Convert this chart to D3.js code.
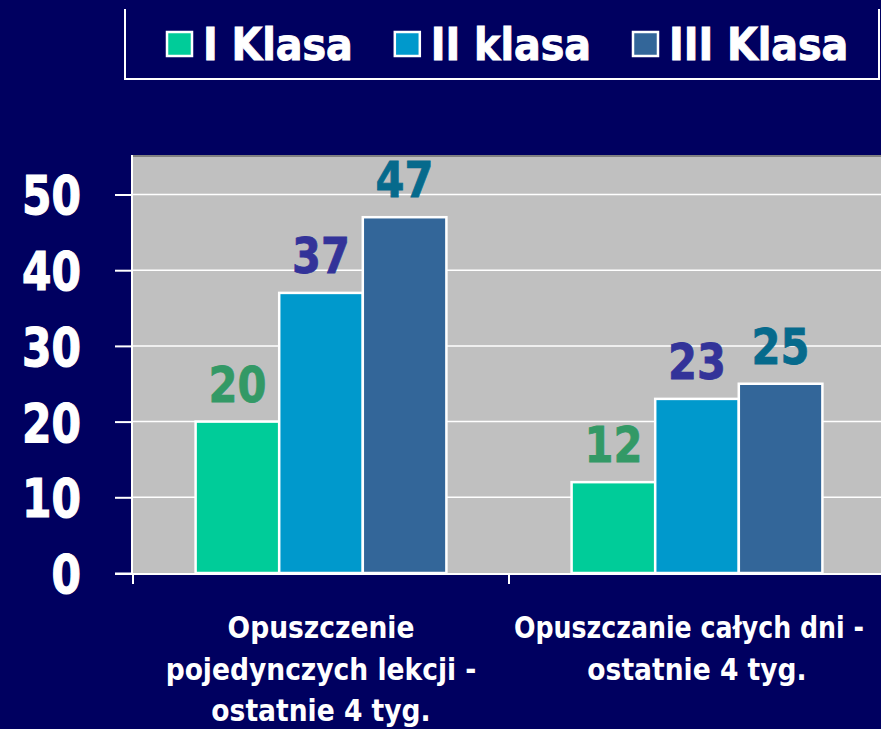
<!DOCTYPE html>
<html>
<head>
<meta charset="utf-8">
<script src="https://cdn.jsdelivr.net/npm/d3@7"></script>
<style>
  html, body { margin: 0; padding: 0; background: #000060; }
  svg { display: block; }
  text { font-family: "DejaVu Sans", Verdana, sans-serif; font-weight: bold; }
</style>
</head>
<body>
<div class="graphContainer"></div>
<script>
const categories = ["lekcje", "dni"];
const categoryLines = [
  ["Opuszczenie", "pojedynczych lekcji -", "ostatnie 4 tyg."],
  ["Opuszczanie całych dni -", "ostatnie 4 tyg."]
];
const series = ["I Klasa", "II klasa", "III Klasa"];
const klasa1 = [20, 12];
const klasa2 = [37, 23];
const klasa3 = [47, 25];
const yTicks = [0, 10, 20, 30, 40, 50];

const barColors = ["#00cc99", "#0099cc", "#336699"];
const labelColors = ["#339966", "#333399", "#066a8c"];

// squash text horizontally, the original font is narrower than DejaVu
function squeeze(sel, ratio) {
  sel.each(function () {
    const w = this.getComputedTextLength();
    d3.select(this)
      .attr("textLength", w * ratio)
      .attr("lengthAdjust", "spacingAndGlyphs");
  });
}

function drawChart() {
  const w = 881,
    h = 729,
    plotLeft = 133,
    plotRight = 885,
    plotTop = 155,
    plotBottom = 573;

  const values = [klasa1, klasa2, klasa3];

  const canvas = d3.select(".graphContainer")
    .append("svg")
    .attr("width", w)
    .attr("height", h);

  canvas.append("rect")
    .attr("width", w)
    .attr("height", h)
    .attr("fill", "#000060");

  let y = d3.scaleLinear()
    .domain([0, 50])
    .range([plotBottom, 194.5]);

  let x = d3.scaleBand()
    .domain(categories)
    .range([plotLeft, plotRight]);

  let xSeries = d3.scaleBand()
    .domain(series)
    .range([x.bandwidth() * 0.1665, x.bandwidth() * 0.8335]);

  // plot area
  canvas.append("rect")
    .attr("x", plotLeft)
    .attr("y", plotTop)
    .attr("width", plotRight - plotLeft)
    .attr("height", plotBottom - plotTop)
    .attr("fill", "#c0c0c0");

  canvas.append("line")
    .attr("x1", plotLeft)
    .attr("x2", plotRight)
    .attr("y1", plotTop + 1)
    .attr("y2", plotTop + 1)
    .attr("stroke", "#808080")
    .attr("stroke-width", 2);

  // gridlines
  canvas.selectAll(".grid")
    .data(yTicks.filter(function (d) { return d > 0; }))
    .enter()
    .append("line")
    .attr("class", "grid")
    .attr("x1", plotLeft)
    .attr("x2", plotRight)
    .attr("y1", function (d) { return y(d); })
    .attr("y2", function (d) { return y(d); })
    .attr("stroke", "#ffffff")
    .attr("stroke-width", 1.5);

  // y axis
  let yAxis = d3.axisLeft(y)
    .tickValues(yTicks)
    .tickSize(17)
    .tickPadding(34);

  const yAxisG = canvas.append("g")
    .attr("transform", "translate(" + (plotLeft - 1) + ",0)")
    .call(yAxis);

  yAxisG.select(".domain")
    .attr("d", "M0," + plotTop + "V" + plotBottom)
    .attr("stroke", "#ffffff")
    .attr("stroke-width", 2);

  yAxisG.selectAll(".tick line")
    .attr("stroke", "#ffffff")
    .attr("stroke-width", 2);

  yAxisG.selectAll(".tick text")
    .attr("fill", "#ffffff")
    .attr("font-size", 54)
    .attr("font-family", "DejaVu Sans")
    .attr("font-weight", "bold")
    .attr("stroke", "#ffffff")
    .attr("stroke-width", 1.2)
    .attr("dy", "0.36em")
    .call(squeeze, 0.785);

  // bars
  const groups = canvas.selectAll(".group")
    .data(categories)
    .enter()
    .append("g")
    .attr("class", "group")
    .attr("transform", function (d) {
      return "translate(" + x(d) + ",0)";
    });

  groups.selectAll("rect")
    .data(function (d, i) {
      return series.map(function (s, j) {
        return { s: s, j: j, v: values[j][i] };
      });
    })
    .enter()
    .append("rect")
    .attr("x", function (d) { return xSeries(d.s); })
    .attr("y", function (d) { return y(d.v); })
    .attr("width", xSeries.bandwidth())
    .attr("height", function (d) { return plotBottom - y(d.v); })
    .attr("fill", function (d) { return barColors[d.j]; })
    .attr("stroke", "#ffffff")
    .attr("stroke-width", 2.5);

  groups.selectAll(".value")
    .data(function (d, i) {
      return series.map(function (s, j) {
        return { s: s, j: j, v: values[j][i] };
      });
    })
    .enter()
    .append("text")
    .attr("class", "value")
    .attr("x", function (d) { return xSeries(d.s) + xSeries.bandwidth() / 2; })
    .attr("y", function (d) { return y(d.v) - 20; })
    .attr("text-anchor", "middle")
    .attr("font-size", 49)
    .attr("fill", function (d) { return labelColors[d.j]; })
    .attr("stroke", function (d) { return labelColors[d.j]; })
    .attr("stroke-width", 0.8)
    .text(function (d) { return d.v; })
    .call(squeeze, 0.85);

  // x axis
  canvas.append("line")
    .attr("x1", plotLeft - 18)
    .attr("x2", plotRight)
    .attr("y1", plotBottom + 1)
    .attr("y2", plotBottom + 1)
    .attr("stroke", "#ffffff")
    .attr("stroke-width", 2);

  canvas.selectAll(".xtick")
    .data(categories)
    .enter()
    .append("line")
    .attr("class", "xtick")
    .attr("x1", function (d) { return x(d); })
    .attr("x2", function (d) { return x(d); })
    .attr("y1", plotBottom)
    .attr("y2", plotBottom + 11)
    .attr("stroke", "#ffffff")
    .attr("stroke-width", 2);

  // category labels, scaled with a transform so long lines stay inside
  categories.forEach(function (c, i) {
    categoryLines[i].forEach(function (line, k) {
      const g = canvas.append("g");
      const t = g.append("text")
        .attr("text-anchor", "middle")
        .attr("font-size", 29.5)
        .attr("fill", "#ffffff")
        .text(line);

      const natural = t.node().getComputedTextLength();
      const sx = Math.min(0.9, 350 / natural);
      let cx = x(c) + x.bandwidth() / 2;
      if (cx + natural * sx / 2 > w - 17) {
        cx = w - 17 - natural * sx / 2;
      }
      g.attr("transform", "translate(" + cx + "," + (638 + k * 41.5) + ") scale(" + sx + ",1)");
    });
  });

  // legend
  canvas.append("path")
    .attr("d", "M125,9V79H879V9")
    .attr("fill", "none")
    .attr("stroke", "#ffffff")
    .attr("stroke-width", 2);

  let lx = 167;
  series.forEach(function (s, j) {
    canvas.append("rect")
      .attr("x", lx)
      .attr("y", 32)
      .attr("width", 25)
      .attr("height", 24)
      .attr("fill", barColors[j])
      .attr("stroke", "#ffffff")
      .attr("stroke-width", 2.5);

    const t = canvas.append("text")
      .attr("x", lx + 36)
      .attr("y", 60)
      .attr("font-size", 44)
      .attr("fill", "#ffffff")
      .attr("stroke", "#ffffff")
      .attr("stroke-width", 1)
      .text(s)
      .call(squeeze, 0.9);

    lx = lx + 36 + (+t.attr("textLength")) + 42;
  });
}

drawChart();
</script>
</body>
</html>
